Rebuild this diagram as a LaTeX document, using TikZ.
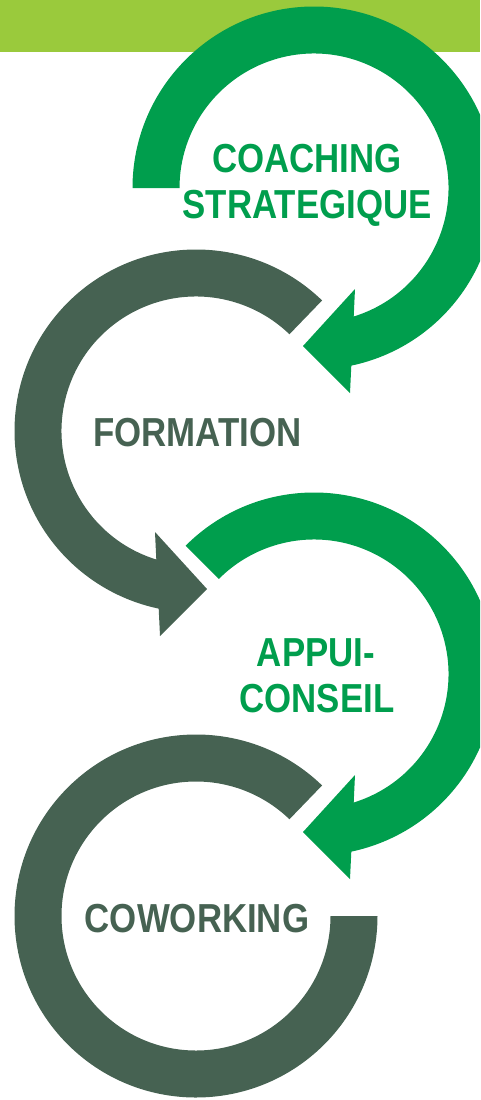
\documentclass[tikz,border=0pt]{standalone}
\usepackage{fontspec}
\setmainfont[FakeStretch=0.86]{Liberation Sans}
\usetikzlibrary{calc}
\definecolor{barG}{HTML}{9ACA3C}
\definecolor{arcG}{HTML}{009E4D}
\definecolor{arcD}{HTML}{466252}
\begin{document}
\begin{tikzpicture}[x=1pt,y=1pt,
  lbl/.style={inner sep=0pt, anchor=base, font=\fontsize{40.5}{46}\selectfont\bfseries}]
\useasboundingbox (0,0) rectangle (480,-1100);
\clip (0,0) rectangle (480,-1100);
\fill[barG] (0,0) rectangle (480,-52);
\coordinate (c1) at (314,-188);
\coordinate (c2) at (196,-431);
\coordinate (c3) at (314,-674);
\coordinate (c4) at (196,-916);
% circle 1 (green)
\fill[arcG] ($(c1)+(180:181.5)$) arc[start angle=180, end angle=-78.14, radius=181.5]
  -- ($(c1)+(36,-205)$) -- ($(c1)+(-11,-158)$) -- ($(c1)+(41,-101)$)
  -- ($(c1)+(-72.83:134.5)$) arc[start angle=-72.83, end angle=180, radius=134.5] -- cycle;
% circle 2 (dark)
\fill[arcD] ($(c2)+(46:181.5)$) arc[start angle=46, end angle=258.14, radius=181.5]
  -- ($(c2)+(-36,-205)$) -- ($(c2)+(11,-158)$) -- ($(c2)+(-41,-101)$)
  -- ($(c2)+(252.83:134.5)$) arc[start angle=252.83, end angle=46, radius=134.5] -- cycle;
% circle 3 (green)
\fill[arcG] ($(c3)+(135:181.5)$) arc[start angle=135, end angle=-78.14, radius=181.5]
  -- ($(c3)+(36,-205)$) -- ($(c3)+(-11,-158)$) -- ($(c3)+(41,-101)$)
  -- ($(c3)+(-72.83:134.5)$) arc[start angle=-72.83, end angle=135, radius=134.5] -- cycle;
% circle 4 (dark)
\fill[arcD] ($(c4)+(46:181.5)$) arc[start angle=46, end angle=360, radius=181.5]
  -- ($(c4)+(0:134.5)$) arc[start angle=360, end angle=46, radius=134.5] -- cycle;
% labels
\node[lbl, text=arcG] (coach) at (307,-172) {COACHING};
\node[lbl, text=arcG] (strat) at (307,-218) {STRATEGIQUE};
\node[lbl, text=arcD] (form) at (197.5,-446) {FORMATION};
\node[lbl, text=arcG] (appui) at (316,-666) {APPUI-};
\node[lbl, text=arcG] (conseil) at (317,-712) {CONSEIL};
\node[lbl, text=arcD] (cowork) at (197,-932) {COWORKING};
\end{tikzpicture}
\end{document}
